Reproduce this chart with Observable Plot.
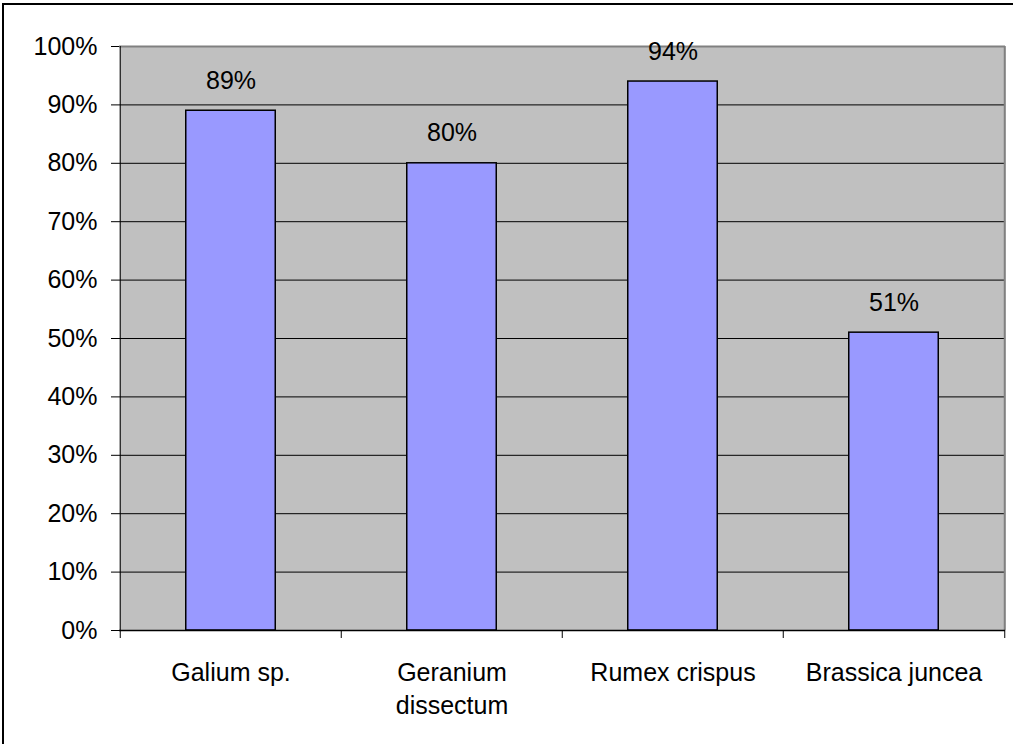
<!DOCTYPE html>
<html>
<head>
<meta charset="utf-8">
<script src="https://cdn.jsdelivr.net/npm/d3@7"></script>
<script src="https://cdn.jsdelivr.net/npm/@observablehq/plot@0.6"></script>
<style>
  html, body { margin: 0; padding: 0; background: white; overflow: hidden; }
  #wrap { position: relative; width: 1013px; height: 744px; overflow: hidden; }
  #border { position: absolute; left: 2px; top: 3px; width: 1100px; height: 900px;
            border-left: 2px solid black; border-top: 2px solid black; pointer-events: none; }
</style>
</head>
<body>
<div id="wrap"><div id="border"></div></div>
<script>
const categories = ["Galium sp.", "Geranium\ndissectum", "Rumex crispus", "Brassica juncea"];
const values = [89, 80, 94, 51];
const yTicks = [0, 10, 20, 30, 40, 50, 60, 70, 80, 90, 100];

const data = categories.map((c, i) => ({category: c, value: values[i]}));

const W = 1013, H = 744;
const mL = 119, mR = 8, mT = 46, mB = 114;
const step = (W - mL - mR) / categories.length;
const inset = 65.75;
const font = "'Liberation Sans', Arial, Helvetica, sans-serif";

const chart = Plot.plot({
  width: W,
  height: H,
  marginLeft: mL,
  marginRight: mR,
  marginTop: mT,
  marginBottom: mB,
  style: {fontSize: "25px", fontFamily: font, background: "transparent", color: "black"},
  x: {type: "band", domain: categories, padding: 0, axis: null, label: null},
  y: {domain: [0, 100], axis: null, label: null},
  marks: [
    Plot.frame({fill: "#C0C0C0", stroke: null}),
    Plot.ruleY(yTicks, {stroke: "#000000", strokeWidth: 1}),
    Plot.ruleY([100], {stroke: "#808080", strokeWidth: 2}),
    Plot.ruleX([categories[categories.length - 1]], {dx: step / 2, stroke: "#808080", strokeWidth: 2}),
    Plot.barY(data, {x: "category", y: "value", fill: "#9999FF", stroke: "black", strokeWidth: 1.5, insetLeft: inset, insetRight: inset}),
    Plot.ruleX([categories[0]], {dx: -step / 2, stroke: "black", strokeWidth: 1}),
    Plot.ruleY([0], {stroke: "black", strokeWidth: 1.5}),
    Plot.axisY({ticks: yTicks, tickFormat: d => d + "%", tickSize: 8, tickPadding: 14, stroke: "black", fontSize: 25, label: null}),
    Plot.axisX({ticks: categories, tickSize: 8, tickFormat: () => "", dx: -step / 2, stroke: "black", label: null}),
    Plot.axisX({ticks: [categories[categories.length - 1]], tickSize: 8, tickFormat: () => "", dx: step / 2, stroke: "black", label: null}),
    Plot.text(categories, {x: d => d, frameAnchor: "bottom", lineAnchor: "top", dy: 27, lineHeight: 1.32, fontSize: 25, fill: "black"}),
    Plot.text(data, {x: "category", y: "value", text: d => d.value + "%", lineAnchor: "middle", dy: -30, fontSize: 25, fill: "black"})
  ]
});

document.getElementById("wrap").insertBefore(chart, document.getElementById("border"));
</script>
</body>
</html>
